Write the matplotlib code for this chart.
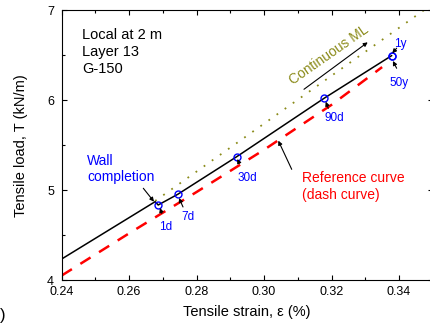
import numpy as np
import matplotlib
matplotlib.use("Agg")
import matplotlib.pyplot as plt
from matplotlib.ticker import MultipleLocator

plt.rcParams['font.family'] = ['Liberation Sans', 'DejaVu Sans']

# measured (black) curve with time markers
meas_x = [0.24, 0.2677, 0.2686, 0.2744, 0.2919, 0.3178, 0.3378]
meas_y = [4.234, 4.872, 4.835, 4.954, 5.373, 6.023, 6.497]

# time points on the measured curve
pt_labels = ['1d', '7d', '30d', '90d', '1y', '50y']
pt_x = [0.2686, 0.2744, 0.2919, 0.3178, 0.3378, 0.3378]
pt_y = [4.835, 4.954, 5.373, 6.023, 6.497, 6.494]

# reference curve (dashed)
ref_x = [0.24, 0.26, 0.28, 0.30, 0.32, 0.335]
ref_y = [4.05, 4.52, 4.98, 5.45, 5.95, 6.37]

# continuous ML (dotted)
ml_x = [0.2677, 0.348]
ml_y = [4.88, 7.02]

fig = plt.figure(figsize=(4.31, 3.26), dpi=100)
ax = fig.add_axes([0.1432, 0.1411, 0.8608, 0.8267])

ax.plot(ref_x, ref_y, color='red', lw=1.8, dashes=(4.8, 4))
ax.plot(ml_x, ml_y, color='#8b8b1a', lw=1.3, linestyle=(0, (1, 4.5)))
ax.plot(meas_x, meas_y, color='black', lw=1.1)
ax.plot(pt_x, pt_y, 'o', mfc='none', mec='blue', ms=5, mew=1.0)

ax.set_xlim(0.24, 0.35)
ax.set_ylim(4, 7)
ax.xaxis.set_major_locator(MultipleLocator(0.02))
ax.xaxis.set_minor_locator(MultipleLocator(0.01))
ax.yaxis.set_major_locator(MultipleLocator(1))
ax.yaxis.set_minor_locator(MultipleLocator(0.5))
ax.set_xticks([0.24, 0.26, 0.28, 0.30, 0.32, 0.34])
ax.set_xticklabels(['0.24', '0.26', '0.28', '0.30', '0.32', '0.34'])
ax.tick_params(which='both', direction='in', top=True, right=True, labelsize=9, width=0.8)
ax.tick_params(which='major', length=3.4)
ax.tick_params(axis='x', which='major', pad=4.5)
ax.tick_params(axis='y', which='major', pad=5.5)
ax.tick_params(which='minor', length=2.2)
for s in ax.spines.values():
    s.set_linewidth(0.8)

ax.set_xlabel('Tensile strain, \u03b5 (%)', fontsize=10.5, labelpad=4.5)
ax.set_ylabel('Tensile load, T (kN/m)', fontsize=10.5, labelpad=14)

ax.text(0.2461, 6.80, 'Local at 2 m\nLayer 13\nG-150', fontsize=10.5, va='top', ha='left',
        linespacing=1.25)

arr = dict(arrowstyle='-|>', color='black', lw=0.8, mutation_scale=6, shrinkA=0, shrinkB=0)

# time labels: text position, arrow tail, arrow head
lab_pos = [(0.2709, 4.59), (0.2775, 4.705), (0.2949, 5.132), (0.3208, 5.80), (0.3403, 6.627), (0.3401, 6.19)]
tails = [(0.26965, 4.742), (0.27596, 4.813), (0.29265, 5.299), (0.31904, 5.911), (0.3393, 6.58), (0.3393, 6.357)]
heads = [(0.26914, 4.802), (0.27478, 4.913), (0.29206, 5.347), (0.31827, 5.985), (0.3380, 6.524), (0.3382, 6.438)]
for lab, p, t, h in zip(pt_labels, lab_pos, tails, heads):
    ax.text(p[0], p[1], lab, color='blue', fontsize=8.5, ha='center', va='center')
    ax.annotate('', xy=h, xytext=t, arrowprops=arr)

ax.text(0.2475, 5.235, 'Wall\ncompletion', color='blue', fontsize=10, ha='left', va='center',
        linespacing=1.2)
ax.annotate('', xy=(0.26736, 4.872), xytext=(0.26419, 5.021), arrowprops=arr)

ax.text(0.3192, 6.51, 'Continuous ML', color='#8b8b1a', fontsize=10, rotation=35,
        ha='center', va='center', rotation_mode='anchor')
ax.annotate('', xy=(0.33072, 6.646), xytext=(0.31183, 6.123), arrowprops=arr)

ax.text(0.3112, 5.039, 'Reference curve\n(dash curve)', color='red', fontsize=10,
        ha='left', va='center', linespacing=1.25)
ax.annotate('', xy=(0.30422, 5.551), xytext=(0.30819, 5.232), arrowprops=arr)

fig.text(0.012, 0.033, ')', fontsize=12, ha='right', va='center')

fig.savefig('out.png', dpi=100)
